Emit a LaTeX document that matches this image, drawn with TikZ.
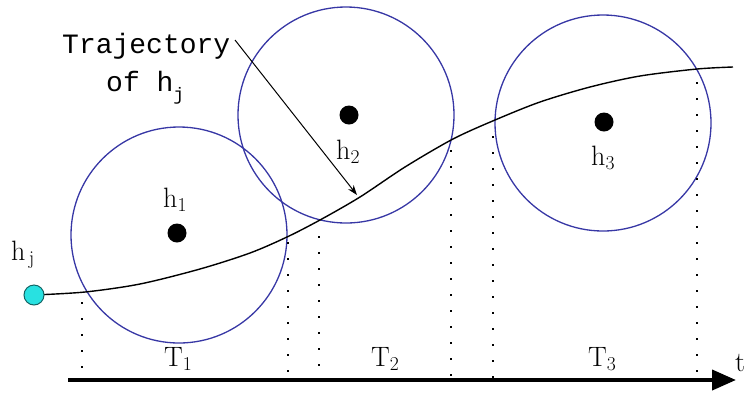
\documentclass[tikz,border=0pt]{standalone}
\usepackage{fontspec}
\newfontfamily\monofont{Liberation Mono}
\usetikzlibrary{arrows.meta}
\definecolor{ringblue}{RGB}{55,55,165}
\definecolor{startcyan}{RGB}{40,225,225}
\definecolor{startedge}{RGB}{20,100,100}
\begin{document}
\begin{tikzpicture}[x=1pt,y=-1pt,
  ring/.style={circle,draw=ringblue,line width=1.3pt,minimum size=216pt,inner sep=0pt},
  centre/.style={circle,fill=black,minimum size=19pt,inner sep=0pt},
  lbl/.style={font=\fontsize{28}{30}\selectfont,inner sep=0pt,anchor=base west},
  mono/.style={font=\monofont\fontsize{28}{30}\selectfont,inner sep=0pt,anchor=base west},
  dots/.style={line width=2.2pt,dash pattern=on 2.2pt off 13.8pt,line cap=butt}]
\useasboundingbox (0,0) rectangle (747,392);
% circles
\node[ring] (c1) at (179,235) {};
\node[ring] (c2) at (346,115) {};
\node[ring] (c3) at (603,123) {};
\node[centre] (d1) at (177,233) {};
\node[centre] (d2) at (349,115) {};
\node[centre] (d3) at (604,122) {};
\node[lbl] (h1) at (163,207) {h$_{\mathrm{1}}$};
\node[lbl] (h2) at (336,159) {h$_{\mathrm{2}}$};
\node[lbl] (h3) at (591,165) {h$_{\mathrm{3}}$};
\node[lbl] (hj) at (11,260) {h$_{\,\mathrm{j}}$};
% trajectory
\coordinate (s) at (34,295);
\coordinate (tip) at (357,195);
\draw[line width=1.4pt] plot[smooth,tension=0.5] coordinates {(34,295) (85,292) (140,284) (200,269) (250,253) (287,237) (320,220) (360,197) (405,167) (453,139) (495,120) (540,102) (590,87) (640,76) (697,69) (733,67)};
\node[circle,draw=startedge,fill=startcyan,line width=1pt,minimum size=20pt,inner sep=0pt] (start) at (s) {};
% axis
\coordinate (a0) at (68,380);
\coordinate (a1) at (736,380);
\draw[line width=4pt,-{Triangle[length=24pt,width=20pt]}] (a0) -- (a1);
\node[lbl] (t) at (735,371) {t};
% dotted guides
\draw[dots] (82,302) -- (82,378);
\draw[dots] (288,242) -- (288,378);
\draw[dots] (319,236) -- (319,378);
\draw[dots] (451,150) -- (451,378);
\draw[dots] (493,136) -- (493,378);
\draw[dots] (697,82) -- (697,378);
% interval labels
\node[lbl] (T1) at (164,366) {T$_{\mathrm{1}}$};
\node[lbl] (T2) at (371,366) {T$_{\mathrm{2}}$};
\node[lbl] (T3) at (588,366) {T$_{\mathrm{3}}$};
% trajectory label
\node[mono] (tr) at (62,53) {Trajectory};
\node[mono] (of) at (106,91) {of h\raisebox{-0.35em}{\fontsize{18}{20}\selectfont j}};
\coordinate (tr0) at (235,40);
\draw[line width=1pt,-{Stealth[length=10pt,width=7pt]}] (tr0) -- (tip);
\end{tikzpicture}
\end{document}
